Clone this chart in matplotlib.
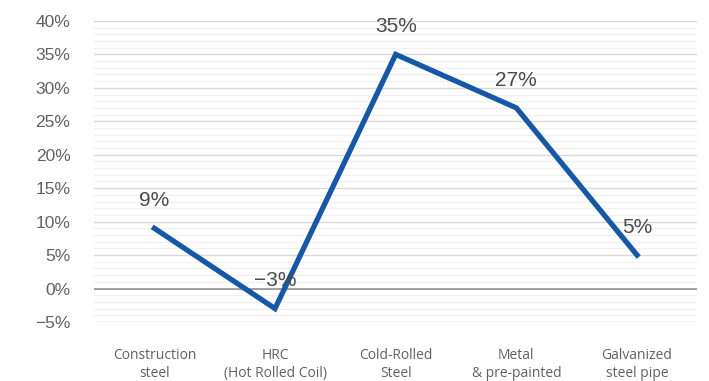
import matplotlib
matplotlib.use("Agg")
import matplotlib.pyplot as plt
from matplotlib.ticker import MultipleLocator, FuncFormatter

categories = ["Construction\nsteel", "HRC\n(Hot Rolled Coil)", "Cold-Rolled\nSteel",
              "Metal\n& pre-painted", "Galvanized\nsteel pipe"]
values = [9, -3, 35, 27, 5]
labels = ["9%", "\u22123%", "35%", "27%", "5%"]

plt.rcParams['font.family'] = ['Liberation Sans', 'DejaVu Sans']

fig = plt.figure(figsize=(7.09, 3.81), dpi=100)
ax = fig.add_axes([0.1326, 0.155, 0.851, 0.79])

x = list(range(len(categories)))
ax.set_xlim(-0.5, len(categories) - 0.5)
ax.set_ylim(-5, 40)

# grid: light minor lines every 1%, major every 5%, darker zero line
ax.yaxis.set_major_locator(MultipleLocator(5))
ax.yaxis.set_minor_locator(MultipleLocator(1))
ax.grid(axis='y', which='minor', color='#f0f0f0', lw=0.9)
ax.grid(axis='y', which='major', color='#d9d9d9', lw=1.0)
ax.axhline(0, color='#8c8c8c', lw=1.1, zorder=1)
ax.set_axisbelow(True)

ax.plot(x, values, color='#1658a6', lw=3.8, solid_joinstyle='miter', zorder=3)

for xi, v, t in zip(x, values, labels):
    ax.annotate(t, (xi, v), xytext=(0, 20), textcoords='offset points',
                ha='center', va='center', fontsize=15, color='#4a4a4a', zorder=4)

ax.yaxis.set_major_formatter(FuncFormatter(lambda v, p: f"{v:.0f}%".replace('-', '\u2212')))
ax.set_xticks(x)
ax.set_xticklabels(categories, fontsize=10, color='#616161', linespacing=1.25,
                   family=['Open Sans', 'DejaVu Sans'])
ax.tick_params(axis='y', labelsize=12.5, colors='#616161', length=0, pad=17)
ax.tick_params(axis='y', which='minor', length=0)
ax.tick_params(axis='x', length=0, pad=19)
for s in ax.spines.values():
    s.set_visible(False)

fig.savefig("out.png", dpi=100)
